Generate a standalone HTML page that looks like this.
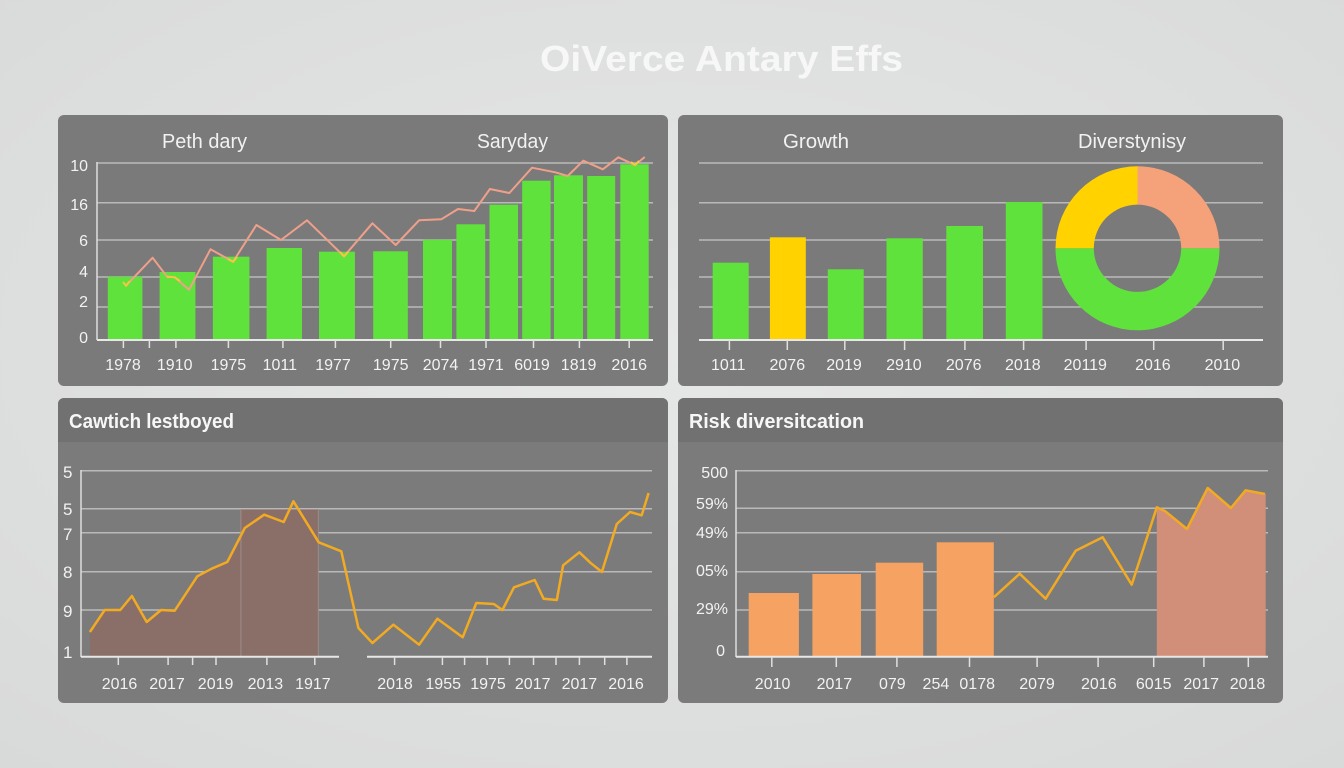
<!DOCTYPE html>
<html>
<head>
<meta charset="utf-8">
<style>
  html,body{margin:0;padding:0;}
  body{width:1344px;height:768px;overflow:hidden;background:#e0e1e1;}
  svg{display:block;}
  text{font-family:"Liberation Sans",sans-serif;}
</style>
</head>
<body>
<svg width="1344" height="768" viewBox="0 0 1344 768" xmlns="http://www.w3.org/2000/svg">
  <defs>
    <radialGradient id="bg" cx="50%" cy="45%" r="75%">
      <stop offset="0" stop-color="#e6e7e7"/>
      <stop offset="1" stop-color="#d8d9d9"/>
    </radialGradient>
  </defs>
  <rect x="0" y="0" width="1344" height="768" fill="url(#bg)"/>

  <!-- Title -->
  <text x="540" y="71" font-size="36" font-weight="bold" fill="#f7f7f7" textLength="363" lengthAdjust="spacingAndGlyphs">OiVerce Antary Effs</text>

  <!-- ============ Panel TL ============ -->
  <rect x="58" y="115" width="610" height="271" rx="6" fill="#7a7a7a"/>
  <text x="162" y="148" font-size="20" fill="#f2f2f2" textLength="85" lengthAdjust="spacingAndGlyphs">Peth dary</text>
  <text x="477" y="148" font-size="20" fill="#f2f2f2" textLength="71" lengthAdjust="spacingAndGlyphs">Saryday</text>
  <g stroke="#b9b9b9" stroke-width="1.5">
    <line x1="97" y1="163" x2="653" y2="163"/>
    <line x1="97" y1="202.7" x2="653" y2="202.7"/>
    <line x1="97" y1="240" x2="653" y2="240"/>
    <line x1="97" y1="277" x2="653" y2="277"/>
    <line x1="97" y1="307" x2="653" y2="307"/>
  </g>
  <line x1="97" y1="162" x2="97" y2="340" stroke="#dedede" stroke-width="1.5"/>
  <g fill="#f2f2f2" font-size="16" text-anchor="end">
    <text x="88" y="171">10</text>
    <text x="88" y="210">16</text>
    <text x="88" y="246">6</text>
    <text x="88" y="277">4</text>
    <text x="88" y="307">2</text>
    <text x="88" y="343">0</text>
  </g>
  <g fill="#60e23c">
    <rect x="107.8" y="276.7" width="34.6" height="63.3"/>
    <rect x="159.6" y="272" width="35.8" height="68"/>
    <rect x="212.9" y="256.7" width="36.5" height="83.3"/>
    <rect x="266.6" y="248" width="35.4" height="92"/>
    <rect x="319" y="251.7" width="35.9" height="88.3"/>
    <rect x="373.2" y="251.3" width="34.6" height="88.7"/>
    <rect x="423" y="239.7" width="29" height="100.3"/>
    <rect x="456.4" y="224.3" width="28.8" height="115.7"/>
    <rect x="489.5" y="204.7" width="28.5" height="135.3"/>
    <rect x="522.2" y="180.7" width="28.4" height="159.3"/>
    <rect x="554" y="175.3" width="29" height="164.7"/>
    <rect x="587.2" y="176" width="28" height="164"/>
    <rect x="620.3" y="164.3" width="28.4" height="175.7"/>
  </g>
  <line x1="97" y1="340" x2="653" y2="340" stroke="#e8e8e8" stroke-width="2"/>
  <g stroke="#e0e0e0" stroke-width="1.5">
    <line x1="123.4" y1="340" x2="123.4" y2="348"/>
    <line x1="149.4" y1="340" x2="149.4" y2="348"/>
    <line x1="175.9" y1="340" x2="175.9" y2="348"/>
    <line x1="228.4" y1="340" x2="228.4" y2="348"/>
    <line x1="282.9" y1="340" x2="282.9" y2="348"/>
    <line x1="335.4" y1="340" x2="335.4" y2="348"/>
    <line x1="390.7" y1="340" x2="390.7" y2="348"/>
    <line x1="440.5" y1="340" x2="440.5" y2="348"/>
    <line x1="486" y1="340" x2="486" y2="348"/>
    <line x1="533.5" y1="340" x2="533.5" y2="348"/>
    <line x1="579.4" y1="340" x2="579.4" y2="348"/>
    <line x1="629.2" y1="340" x2="629.2" y2="348"/>
  </g>
  <polyline fill="none" stroke="#f0a08a" stroke-width="2" stroke-linejoin="round"
    points="126,285.7 152.6,257.7 167,276.7 174.7,277.3 189.1,289.7 210.5,249.3 233.1,261.7 256.4,225 281,240 307,220.3 344,256.3 372.4,223.3 395.7,245 419.1,220.3 441.3,219.3 458,209 474.3,211 489.9,189 509.4,193 532,167.7 555.3,172.3 567.7,176 583.3,160.7 602.8,169.3 618.3,157.3 635,165 644.8,157"/>
  <g fill="none" stroke="#f5c840" stroke-width="2">
    <polyline points="123,282 126,285.7 130,281"/>
    <polyline points="167,276.7 174.7,277.3 180,281"/>
    <polyline points="228,259 233.1,261.7 237,257"/>
    <polyline points="340,252 344,256.3 348,252"/>
    <polyline points="631,162 635,165 639,161"/>
  </g>
  <g fill="#f2f2f2" font-size="16" text-anchor="middle">
    <text x="123" y="370">1978</text>
    <text x="174.7" y="370">1910</text>
    <text x="228.4" y="370">1975</text>
    <text x="279.8" y="370">1011</text>
    <text x="333" y="370">1977</text>
    <text x="390.7" y="370">1975</text>
    <text x="440.5" y="370">2074</text>
    <text x="486" y="370">1971</text>
    <text x="532" y="370">6019</text>
    <text x="578.6" y="370">1819</text>
    <text x="629.2" y="370">2016</text>
  </g>

  <!-- ============ Panel TR ============ -->
  <rect x="678" y="115" width="605" height="271" rx="6" fill="#7a7a7a"/>
  <text x="783" y="148" font-size="20" fill="#f2f2f2" textLength="66" lengthAdjust="spacingAndGlyphs">Growth</text>
  <text x="1078" y="148" font-size="20" fill="#f2f2f2" textLength="108" lengthAdjust="spacingAndGlyphs">Diverstynisy</text>
  <g stroke="#b9b9b9" stroke-width="1.5">
    <line x1="699" y1="163" x2="1263" y2="163"/>
    <line x1="699" y1="202.7" x2="1263" y2="202.7"/>
    <line x1="699" y1="240" x2="1263" y2="240"/>
    <line x1="699" y1="277" x2="1263" y2="277"/>
    <line x1="699" y1="307" x2="1263" y2="307"/>
  </g>
  <rect x="712.7" y="262.7" width="36" height="77.3" fill="#60e23c"/>
  <rect x="769.9" y="237.3" width="35.9" height="102.7" fill="#ffd200"/>
  <rect x="827.8" y="269.3" width="35.9" height="70.7" fill="#60e23c"/>
  <rect x="886.5" y="238.3" width="36.3" height="101.7" fill="#60e23c"/>
  <rect x="946.3" y="226" width="36.7" height="114" fill="#60e23c"/>
  <rect x="1005.8" y="202" width="36.7" height="138" fill="#60e23c"/>
  <!-- donut -->
  <path d="M1055.5,248.3 A82,82 0 0 0 1219.5,248.3 L1181.2,248.3 A43.7,43.7 0 0 1 1093.8,248.3 Z" fill="#60e23c"/>
  <path d="M1055.5,248.3 A82,82 0 0 1 1137.5,166.3 L1137.5,204.6 A43.7,43.7 0 0 0 1093.8,248.3 Z" fill="#ffd200"/>
  <path d="M1137.5,166.3 A82,82 0 0 1 1219.5,248.3 L1181.2,248.3 A43.7,43.7 0 0 0 1137.5,204.6 Z" fill="#f5a27a"/>
  <line x1="699" y1="340" x2="1263" y2="340" stroke="#e8e8e8" stroke-width="2"/>
  <g stroke="#e0e0e0" stroke-width="1.5">
    <line x1="729.4" y1="340" x2="729.4" y2="350"/>
    <line x1="787.3" y1="340" x2="787.3" y2="350"/>
    <line x1="844.8" y1="340" x2="844.8" y2="350"/>
    <line x1="904.6" y1="340" x2="904.6" y2="350"/>
    <line x1="964.9" y1="340" x2="964.9" y2="350"/>
    <line x1="1023.6" y1="340" x2="1023.6" y2="350"/>
    <line x1="1086.1" y1="340" x2="1086.1" y2="350"/>
    <line x1="1153.7" y1="340" x2="1153.7" y2="350"/>
    <line x1="1223.2" y1="340" x2="1223.2" y2="350"/>
  </g>
  <g fill="#f2f2f2" font-size="16" text-anchor="middle">
    <text x="728.2" y="370">1011</text>
    <text x="787.3" y="370">2076</text>
    <text x="844" y="370">2019</text>
    <text x="903.9" y="370">2910</text>
    <text x="963.7" y="370">2076</text>
    <text x="1022.8" y="370">2018</text>
    <text x="1085.3" y="370">20119</text>
    <text x="1152.9" y="370">2016</text>
    <text x="1222.4" y="370">2010</text>
  </g>

  <!-- ============ Panel BL ============ -->
  <rect x="58" y="398" width="610" height="305" rx="6" fill="#7b7b7b"/>
  <path d="M64,398 H662 A6,6 0 0 1 668,404 V442 H58 V404 A6,6 0 0 1 64,398 Z" fill="#717171"/>
  <text x="69" y="428" font-size="20" font-weight="bold" fill="#f7f7f7" textLength="165" lengthAdjust="spacingAndGlyphs">Cawtich lestboyed</text>
  <g stroke="#b9b9b9" stroke-width="1.5">
    <line x1="81" y1="470.7" x2="652" y2="470.7"/>
    <line x1="81" y1="508.7" x2="652" y2="508.7"/>
    <line x1="81" y1="532.7" x2="652" y2="532.7"/>
    <line x1="81" y1="571.7" x2="652" y2="571.7"/>
    <line x1="81" y1="610" x2="652" y2="610"/>
  </g>
  <line x1="81" y1="470" x2="81" y2="657" stroke="#dedede" stroke-width="1.5"/>
  <g fill="#f2f2f2" font-size="17">
    <text x="63" y="478">5</text>
    <text x="63" y="515">5</text>
    <text x="63" y="540">7</text>
    <text x="63" y="578">8</text>
    <text x="63" y="617">9</text>
    <text x="63" y="658">1</text>
  </g>
  <polygon fill="#8a6e68" points="90,656.7 89.9,632 104.7,610 120.3,610 131.9,596 146.7,622 161.1,610 174.7,610.7 197.3,576.3 211.7,568.7 227.3,562 240.9,535.6 240.9,656.7"/>
  <rect x="240.9" y="509.5" width="77.4" height="147.2" fill="#8a6e68" stroke="#a08c86" stroke-width="1"/>
  <line x1="81" y1="656.7" x2="339" y2="656.7" stroke="#e8e8e8" stroke-width="2"/>
  <line x1="367" y1="656.7" x2="652" y2="656.7" stroke="#e8e8e8" stroke-width="2"/>
  <g stroke="#e0e0e0" stroke-width="1.5">
    <line x1="118.3" y1="657" x2="118.3" y2="665"/>
    <line x1="168.1" y1="657" x2="168.1" y2="665"/>
    <line x1="192.6" y1="657" x2="192.6" y2="665"/>
    <line x1="216" y1="657" x2="216" y2="665"/>
    <line x1="266.9" y1="657" x2="266.9" y2="665"/>
    <line x1="314.8" y1="657" x2="314.8" y2="665"/>
    <line x1="394.6" y1="657" x2="394.6" y2="665"/>
    <line x1="442.4" y1="657" x2="442.4" y2="665"/>
    <line x1="464.6" y1="657" x2="464.6" y2="665"/>
    <line x1="487.2" y1="657" x2="487.2" y2="665"/>
    <line x1="509.4" y1="657" x2="509.4" y2="665"/>
    <line x1="533.5" y1="657" x2="533.5" y2="665"/>
    <line x1="556" y1="657" x2="556" y2="665"/>
    <line x1="579.4" y1="657" x2="579.4" y2="665"/>
    <line x1="604.7" y1="657" x2="604.7" y2="665"/>
    <line x1="626.9" y1="657" x2="626.9" y2="665"/>
  </g>
  <polyline fill="none" stroke="#f2aa22" stroke-width="2.5" stroke-linejoin="round"
    points="89.9,632 104.7,610 120.3,610 131.9,596 146.7,622 161.1,610 174.7,610.7 197.3,576.3 211.7,568.7 227.3,562 244.8,528 264.2,514.7 283.7,522 293.4,501.3 318.7,542.3 341.3,551.3 358.4,628 372.4,643 393.4,624.7 419.1,644.7 437.4,618.7 462.7,637.3 476.3,603 493.8,604 502.4,610 514,587.3 534.7,580 543.6,598.7 556.8,600 563.1,565.3 579.4,552.3 590.3,562.7 601.9,572 616.8,524 630,512 641.7,515.3 648.6,493"/>
  <g fill="#f2f2f2" font-size="16" text-anchor="middle">
    <text x="119.5" y="689">2016</text>
    <text x="167" y="689">2017</text>
    <text x="215.6" y="689">2019</text>
    <text x="265.4" y="689">2013</text>
    <text x="312.9" y="689">1917</text>
    <text x="395" y="689">2018</text>
    <text x="443.2" y="689">1955</text>
    <text x="488" y="689">1975</text>
    <text x="532.7" y="689">2017</text>
    <text x="579.4" y="689">2017</text>
    <text x="626" y="689">2016</text>
  </g>

  <!-- ============ Panel BR ============ -->
  <rect x="678" y="398" width="605" height="305" rx="6" fill="#7b7b7b"/>
  <path d="M684,398 H1277 A6,6 0 0 1 1283,404 V442 H678 V404 A6,6 0 0 1 684,398 Z" fill="#717171"/>
  <text x="689" y="428" font-size="20" font-weight="bold" fill="#f7f7f7" textLength="175" lengthAdjust="spacingAndGlyphs">Risk diversitcation</text>
  <g stroke="#b9b9b9" stroke-width="1.5">
    <line x1="736" y1="470.7" x2="1268" y2="470.7"/>
    <line x1="736" y1="508.3" x2="1268" y2="508.3"/>
    <line x1="736" y1="532.7" x2="1268" y2="532.7"/>
    <line x1="736" y1="571.7" x2="1268" y2="571.7"/>
    <line x1="736" y1="610" x2="1268" y2="610"/>
  </g>
  <line x1="736" y1="470" x2="736" y2="657" stroke="#dedede" stroke-width="1.5"/>
  <g fill="#f2f2f2" font-size="16" text-anchor="end">
    <text x="728" y="478">500</text>
    <text x="728" y="509">59%</text>
    <text x="728" y="538">49%</text>
    <text x="728" y="576">05%</text>
    <text x="728" y="614">29%</text>
    <text x="725" y="656">0</text>
  </g>
  <g fill="#f5a262">
    <rect x="748.7" y="593" width="50.2" height="63.7"/>
    <rect x="812.4" y="574" width="48.6" height="82.7"/>
    <rect x="875.7" y="562.7" width="47.5" height="94"/>
    <rect x="936.7" y="542.3" width="57.1" height="114.4"/>
  </g>
  <polygon fill="#d18e78" points="1156.8,656.7 1156.8,507.3 1165.3,511.3 1187,529 1207.7,488 1230.9,508 1245.6,490.3 1264.9,494 1265.7,494 1265.7,656.7"/>
  <line x1="736" y1="656.7" x2="1268" y2="656.7" stroke="#e8e8e8" stroke-width="2"/>
  <g stroke="#e0e0e0" stroke-width="1.5">
    <line x1="771.8" y1="657" x2="771.8" y2="667"/>
    <line x1="836.3" y1="657" x2="836.3" y2="667"/>
    <line x1="896.9" y1="657" x2="896.9" y2="667"/>
    <line x1="969.5" y1="657" x2="969.5" y2="667"/>
    <line x1="1037.1" y1="657" x2="1037.1" y2="667"/>
    <line x1="1098.1" y1="657" x2="1098.1" y2="667"/>
    <line x1="1153.7" y1="657" x2="1153.7" y2="667"/>
    <line x1="1203.9" y1="657" x2="1203.9" y2="667"/>
    <line x1="1248.3" y1="657" x2="1248.3" y2="667"/>
  </g>
  <polyline fill="none" stroke="#f2aa22" stroke-width="2.5" stroke-linejoin="round"
    points="993.8,597.3 1019.7,573.7 1045.6,598.7 1075.7,550.7 1102.7,537.3 1131.7,584.7 1156.8,507.3 1165.3,511.3 1187,529 1207.7,488 1230.9,508 1245.6,490.3 1264.9,494"/>
  <g fill="#f2f2f2" font-size="16" text-anchor="middle">
    <text x="772.6" y="689">2010</text>
    <text x="834.4" y="689">2017</text>
    <text x="892.3" y="689">079</text>
    <text x="935.9" y="689">254</text>
    <text x="977.2" y="689">0178</text>
    <text x="1037" y="689">2079</text>
    <text x="1098.8" y="689">2016</text>
    <text x="1153.7" y="689">6015</text>
    <text x="1201.2" y="689">2017</text>
    <text x="1247.5" y="689">2018</text>
  </g>
</svg>
</body>
</html>
